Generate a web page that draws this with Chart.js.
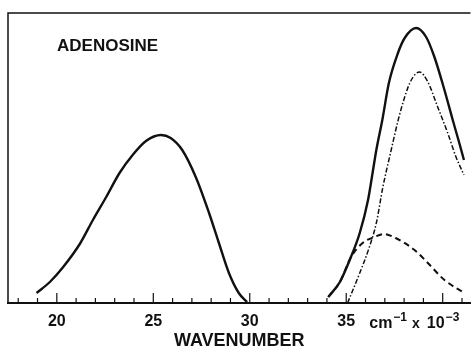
<!DOCTYPE html>
<html>
<head>
<meta charset="utf-8">
<script src="https://cdn.jsdelivr.net/npm/chart.js@4.4.1/dist/chart.umd.min.js"></script>
<style>
  html, body { margin:0; padding:0; background:#fff; }
  #wrap { width:473px; height:350px; }
</style>
</head>
<body>
<div id="wrap"><canvas id="spectrum"></canvas></div>
<script>
// wavenumber in cm-1 x 10^-3, absorbance in arbitrary units
var lowBandX = [18.95, 19.64, 20.33, 21.19, 21.87, 22.56, 23.25, 23.93, 24.62, 25.4, 25.9, 26.5, 27.2, 27.89, 28.4, 28.92, 29.43, 29.86];
var lowBandY = [10, 21, 36, 59, 83, 106, 130, 148, 162, 168, 165, 153, 126, 90, 60, 30, 10, 1];

var totalX = [34.07, 34.67, 35.18, 35.7, 36.13, 36.39, 36.56, 36.87, 37.21, 37.68, 38.03, 38.62, 39.14, 39.57, 40.09, 40.52, 40.86, 41.1];
var totalY = [6, 21, 43, 70, 103, 133, 153, 183, 220, 250, 265, 275, 266, 246, 213, 183, 160, 143];

var dashDotX = [35.07, 35.7, 36.2, 36.56, 36.9, 37.33, 37.68, 38.03, 38.37, 38.8, 39.23, 39.74, 40.26, 40.69, 41.1];
var dashDotY = [0, 30, 56, 80, 116, 153, 182, 206, 223, 231, 221, 196, 170, 146, 128];

var dashedX = [34.07, 34.67, 35.25, 35.85, 36.45, 36.96, 37.56, 38.54, 39.23, 40.09, 41.12];
var dashedY = [6, 21, 46, 60, 66, 69, 65, 53, 40, 23, 10];

var labelTicks = [20, 25, 30, 35];
var sampleName = "ADENOSINE";

var ink = "#111";

function toPoints(xs, ys){
	var pts = [];
	for (var i = 0; i < xs.length; i++) { pts.push({x: xs[i], y: ys[i]}); }
	return pts;
}

function lineSet(xs, ys, width, dash){
	return {
		data: toPoints(xs, ys),
		borderColor: ink,
		borderWidth: width,
		borderDash: dash,
		pointRadius: 0,
		fill: false,
		tension: 0.4,
		cubicInterpolationMode: 'monotone'
	};
}

// frame, inward ticks, sample name and units
var decorations = {
	id: 'decorations',
	afterDraw: function(chart){
		var ctx = chart.ctx, area = chart.chartArea, xs = chart.scales.x;
		ctx.save();
		ctx.strokeStyle = ink;
		ctx.lineWidth = 1.5;
		ctx.beginPath();
		ctx.moveTo(area.left, area.bottom);
		ctx.lineTo(area.left, area.top);
		ctx.lineTo(area.right, area.top);
		ctx.stroke();

		ctx.lineWidth = 1.2;
		xs.ticks.forEach(function(t){
			var px = xs.getPixelForValue(t.value);
			var len = (t.value % 5 === 0) ? 10 : 5;
			ctx.beginPath();
			ctx.moveTo(px, area.bottom);
			ctx.lineTo(px, area.bottom - len);
			ctx.stroke();
		});

		ctx.fillStyle = ink;
		ctx.textBaseline = 'middle';
		ctx.font = 'bold 17px "Liberation Sans", Arial, sans-serif';
		ctx.fillText(sampleName, 57, 46);

		// units after the 35 label
		var base = 328;
		var x = xs.getPixelForValue(35) + 23;
		ctx.textBaseline = 'alphabetic';
		ctx.font = 'bold 16px "Liberation Sans", Arial, sans-serif';
		ctx.fillText("cm", x, base);
		x += ctx.measureText("cm").width + 1;
		ctx.font = 'bold 12px "Liberation Sans", Arial, sans-serif';
		ctx.fillText("\u22121", x, base - 7);
		x += ctx.measureText("\u22121").width + 5;
		ctx.font = 'bold 14px "Liberation Sans", Arial, sans-serif';
		ctx.fillText("x", x, base);
		x += ctx.measureText("x").width + 7;
		ctx.font = 'bold 16px "Liberation Sans", Arial, sans-serif';
		ctx.fillText("10", x, base);
		x += ctx.measureText("10").width + 1;
		ctx.font = 'bold 12px "Liberation Sans", Arial, sans-serif';
		ctx.fillText("\u22123", x, base - 7);
		ctx.restore();
	}
};

new Chart("spectrum", {
	type: 'line',
	data: {
		datasets: [
			lineSet(lowBandX, lowBandY, 2.4, []),
			lineSet(totalX, totalY, 2.4, []),
			lineSet(dashDotX, dashDotY, 1.5, [5, 2, 1.5, 2]),
			lineSet(dashedX, dashedY, 2, [6, 4])
		]
	},
	options: {
		responsive: true,
		maintainAspectRatio: false,
		animation: false,
		layout: { padding: { left: 8, right: 0, top: 13, bottom: 0 } },
		plugins: { legend: { display: false }, tooltip: { enabled: false } },
		scales: {
			x: {
				type: 'linear',
				min: 17.47,
				max: 41.44,
				afterFit: function(scale){ scale.height = 47; },
				grid: { display: false, drawTicks: false },
				border: { display: true, color: ink, width: 2 },
				ticks: {
					stepSize: 1,
					includeBounds: false,
					autoSkip: false,
					maxRotation: 0,
					padding: 11,
					color: ink,
					font: { family: '"Liberation Sans", Arial, sans-serif', size: 16, weight: 'bold', lineHeight: 1 },
					callback: function(v){ return labelTicks.indexOf(v) >= 0 ? String(v) : ''; }
				},
				title: {
					display: true,
					text: 'WAVENUMBER',
					color: ink,
					padding: { top: 3, bottom: 0 },
					font: { family: '"Liberation Sans", Arial, sans-serif', size: 18, weight: 'bold', lineHeight: 1 }
				}
			},
			y: {
				display: false,
				min: 0,
				max: 290
			}
		}
	},
	plugins: [decorations]
});
</script>
</body>
</html>
